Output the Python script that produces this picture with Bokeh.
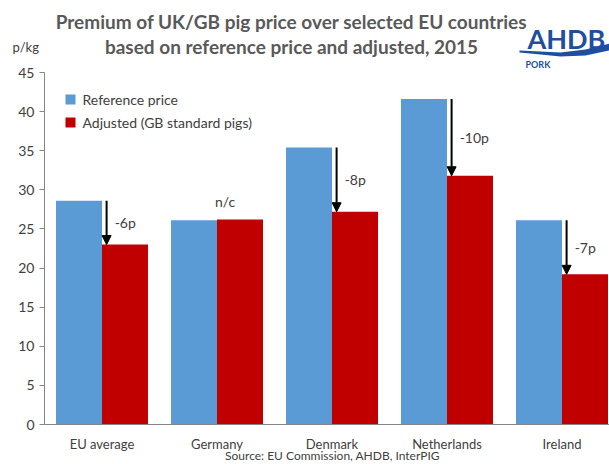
from bokeh.plotting import figure
from bokeh.models import Range1d, FixedTicker, Arrow, NormalHead, ColumnDataSource, LinearAxis
from bokeh.embed import file_html
from bokeh.resources import INLINE
from bokeh.core.properties import value

# ---- data ----
categories = ["EU average", "Germany", "Denmark", "Netherlands", "Ireland"]
reference_price = [28.6, 26.1, 35.4, 41.6, 26.1]
adjusted_price = [23.0, 26.2, 27.2, 31.8, 19.2]
change_labels = ["-6p", "n/c", "-8p", "-10p", "-7p"]
y_ticks = [0, 5, 10, 15, 20, 25, 30, 35, 40, 45]
series_names = ["Reference price", "Adjusted (GB standard pigs)"]
title_lines = ["Premium of UK/GB pig price over selected EU countries",
               "based on reference price and adjusted, 2015"]
unit_label = "p/kg"
source_text = "Source: EU Commission, AHDB, InterPIG"

# ---- layout / style ----
W, H = 609, 464
AX_X = 44                 # page column of the value axis
Y0_PX, Y45_PX = 424, 72   # page rows of value 0 and 45
CAT_PX = 115.0
YMAX = 45
ppy = (Y0_PX - Y45_PX) / YMAX
XMAX = (W - AX_X) / CAT_PX
FONT = "Lato"
TXT = "#404040"
BLUE = "#5B9BD5"
RED = "#C00000"
LOGO = "#1D4F9E"
GREY = "#868686"


def X(px):
    return (px - AX_X) / CAT_PX


def Y(py):
    return (Y0_PX - py) / ppy


p = figure(width=W, height=H, output_backend="svg", toolbar_location=None,
           x_range=Range1d(X(0), X(W)), y_range=Range1d(Y(H), Y(0)),
           x_axis_type=None, y_axis_type=None,
           min_border=0, min_border_left=0, min_border_right=0,
           min_border_top=0, min_border_bottom=0)
p.outline_line_color = None
p.grid.visible = False

n = len(categories)
xc = [i + 0.5 for i in range(n)]
p.vbar(x=[x - 0.2 for x in xc], top=reference_price, width=0.4, fill_color=BLUE, line_color=None)
p.vbar(x=[x + 0.2 for x in xc], top=adjusted_price, width=0.4, fill_color=RED, line_color=None)

# difference arrows and labels
arrow_idx = [i for i in range(n) if change_labels[i] != "n/c"]
asrc = ColumnDataSource(dict(
    x=[xc[i] + 0.04 for i in arrow_idx],
    y0=[reference_price[i] for i in arrow_idx],
    y1=[adjusted_price[i] for i in arrow_idx]))
p.add_layout(Arrow(end=NormalHead(size=9, fill_color="black", line_color="black"),
                   x_start="x", y_start="y0", x_end="x", y_end="y1",
                   line_width=2, line_color="black", source=asrc))
p.text(x=[xc[i] + 0.11 for i in arrow_idx],
       y=[(reference_price[i] + adjusted_price[i]) / 2 for i in arrow_idx],
       text=[change_labels[i] for i in arrow_idx],
       text_font=value(FONT), text_font_size="14px", text_color=TXT,
       text_align="left", text_baseline="middle")
nc_idx = [i for i in range(n) if change_labels[i] == "n/c"]
p.text(x=[xc[i] + 0.07 for i in nc_idx], y=[adjusted_price[i] + 1.2 for i in nc_idx],
       text=[change_labels[i] for i in nc_idx],
       text_font=value(FONT), text_font_size="14px", text_color=TXT,
       text_align="center", text_baseline="bottom")

# legend (manual)
lx = X(70)
ly = [Y(99), Y(122)]
p.scatter(x=[lx, lx], y=ly, marker="square", size=10, fill_color=[BLUE, RED], line_color=None)
p.text(x=[X(82)] * 2, y=ly, text=series_names, text_font=value(FONT),
       text_font_size="14px", text_color=TXT, text_align="left", text_baseline="middle")

# header: title, unit, logo
p.text(x=[X(291)] * 2, y=[Y(21), Y(46)], text=title_lines, text_font=value(FONT),
       text_font_size="19px", text_font_style="bold", text_color="#595959",
       text_align="center", text_baseline="middle")
p.text(x=[X(12)], y=[Y(46)], text=[unit_label], text_font=value(FONT), text_font_size="13px",
       text_color=TXT, text_align="left", text_baseline="middle")
p.text(x=[X(527)], y=[Y(38)], text=["AHDB"], text_font=value(FONT),
       text_font_size="27px", text_font_style="bold", text_color=LOGO,
       text_align="left", text_baseline="alphabetic")
swoosh_px = [(519, 50), (540, 51), (560, 52), (585, 49), (609, 43),
             (609, 50), (585, 55), (560, 56), (540, 54), (519, 52)]
p.patch(x=[X(a) for a, _ in swoosh_px], y=[Y(b) for _, b in swoosh_px],
        fill_color=LOGO, line_color=None)
p.text(x=[X(525)], y=[Y(63.5)], text=["PORK"], text_font=value(FONT), text_font_size="9px",
       text_font_style="bold", text_color=LOGO, text_align="left", text_baseline="middle")

# footer
p.text(x=[X(332)], y=[Y(455)], text=[source_text], text_font=value(FONT),
       text_font_size="12px", text_color=TXT, text_align="center", text_baseline="middle")

# axes (fixed at the data origin)
xa = LinearAxis(fixed_location=0, bounds=(0, XMAX))
xa.ticker = FixedTicker(ticks=xc)
xa.major_label_overrides = {x: c for x, c in zip(xc, categories)}
xa.major_tick_line_color = None
xa.minor_tick_line_color = None
xa.axis_line_color = GREY
xa.major_label_text_font = FONT
xa.major_label_text_font_size = "13px"
xa.major_label_text_color = TXT
xa.major_label_standoff = 5
p.add_layout(xa, "below")

ya = LinearAxis(fixed_location=0, bounds=(0, YMAX))
ya.ticker = FixedTicker(ticks=y_ticks)
ya.minor_tick_line_color = None
ya.major_tick_in = 0
ya.major_tick_out = 5
ya.axis_line_color = GREY
ya.major_tick_line_color = GREY
ya.major_label_text_font = FONT
ya.major_label_text_font_size = "14px"
ya.major_label_text_color = TXT
ya.major_label_standoff = 5
p.add_layout(ya, "left")

open("out.html", "w").write(file_html(p, INLINE))
